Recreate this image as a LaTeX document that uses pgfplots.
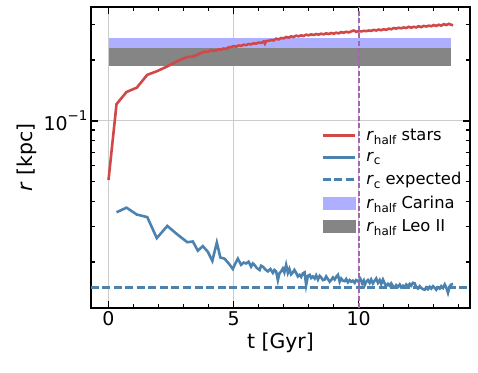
\documentclass[border=0pt]{standalone}
\usepackage{fontspec}
\setmainfont{DejaVu Sans}
\usepackage{pgfplots}
\pgfplotsset{compat=1.18}

\definecolor{cred}{RGB}{208,72,72}
\definecolor{cblue}{RGB}{75,130,175}
\definecolor{cband}{RGB}{175,175,255}
\definecolor{cgrey}{RGB}{133,133,133}
\definecolor{cvline}{RGB}{165,100,178}

\newcommand{\sub}[1]{\raisebox{-0.4ex}{\fontsize{12}{12}\selectfont #1}}

\begin{document}
\begin{tikzpicture}
\useasboundingbox (-91bp,-65bp) rectangle (387bp,308bp);
\begin{axis}[
  scale only axis, width=379bp, height=301bp,
  ymode=log,
  xmin=-0.7, xmax=14.45, ymin=0.01186, ymax=0.366,
  xtick={0,5,10}, minor xtick={1,2,3,4,6,7,8,9,11,12,13,14},
  ytick={0.1}, yticklabels={10\raisebox{1.0ex}{\fontsize{13.5}{13.5}\selectfont −1}},
  minor ytick={0.02,0.03,0.04,0.05,0.06,0.07,0.08,0.09,0.2,0.3},
  tick align=inside, xtick pos=both, ytick pos=both,
  major tick length=7bp, minor tick length=4bp,
  tick style={black, line width=1.3bp},
  axis line style={line width=1.8bp},
  grid=major, major grid style={black!20, line width=1bp},
  tick label style={font=\fontsize{19}{22}\selectfont},
  /pgf/number format/assume math mode=true,
  xlabel={t [Gyr]}, ylabel={\textit{r} [kpc]},
  label style={font=\fontsize{20.5}{23}\selectfont},
  legend style={at={(rel axis cs:0.6,0.608)}, anchor=north west, draw=none, fill=none,
    font=\fontsize{16.4}{18}\selectfont, row sep=5.8bp, column sep=8bp},
  legend cell align=left,
]
% legend handles first, in the reference's order
\addlegendimage{legend image code/.code={\draw[cred, line width=2.8bp] (0bp,0bp) -- (32bp,0bp);}}
\addlegendentry{\textit{r}\sub{half} stars}
\addlegendimage{legend image code/.code={\draw[cblue, line width=2.8bp] (0bp,0bp) -- (32bp,0bp);}}
\addlegendentry{\textit{r}\sub{c}}
\addlegendimage{legend image code/.code={\draw[cblue, line width=2.8bp, dash pattern=on 8bp off 3.5bp] (0bp,0bp) -- (32bp,0bp);}}
\addlegendentry{\textit{r}\sub{c} expected}
\addlegendimage{legend image code/.code={\fill[cband] (0bp,-6bp) rectangle (32bp,6bp);}}
\addlegendentry{\textit{r}\sub{half} Carina}
\addlegendimage{legend image code/.code={\fill[cgrey] (0bp,-6bp) rectangle (32bp,6bp);}}
\addlegendentry{\textit{r}\sub{half} Leo II}

% observed bands
\addplot[forget plot, fill=cband, draw=none] coordinates {(0,0.21) (13.7,0.21) (13.7,0.258) (0,0.258)} -- cycle;
\addplot[forget plot, fill=cgrey, draw=none] coordinates {(0,0.187) (13.7,0.187) (13.7,0.229) (0,0.229)} -- cycle;

% r_c expected
\addplot[forget plot, cblue, line width=2.6bp, dash pattern=on 8bp off 3.5bp] coordinates {(-0.7,0.015) (14.45,0.015)};

% r_half stars
\addplot[forget plot, cred, line width=2.6bp] coordinates {
(0,0.051) (0.32,0.121) (0.72,0.139) (1.13,0.146) (1.55,0.169) (1.93,0.176) (2.35,0.186)
(2.77,0.198) (3.15,0.207) (3.37,0.208) (3.57,0.213) (3.77,0.219) (3.97,0.220) (4.1,0.224)
(4.2,0.222) (4.3,0.223) (4.4,0.226) (4.5,0.225) (4.6,0.228) (4.7,0.227) (4.8,0.231)
(4.9,0.232) (5.0,0.234) (5.1,0.233) (5.2,0.236) (5.3,0.235) (5.4,0.238) (5.5,0.237)
(5.6,0.240) (5.7,0.239) (5.8,0.242) (5.9,0.241) (6.0,0.244) (6.1,0.243) (6.2,0.247)
(6.25,0.241) (6.3,0.248) (6.4,0.249) (6.5,0.251) (6.6,0.250) (6.7,0.255) (6.8,0.253)
(6.9,0.257) (7.0,0.256) (7.1,0.260) (7.2,0.258) (7.3,0.262) (7.4,0.260) (7.5,0.264)
(7.6,0.262) (7.7,0.265) (7.8,0.263) (7.9,0.267) (8.0,0.265) (8.1,0.268) (8.2,0.266)
(8.3,0.269) (8.4,0.267) (8.5,0.270) (8.6,0.268) (8.7,0.271) (8.8,0.269) (8.9,0.272)
(9.0,0.270) (9.1,0.273) (9.2,0.271) (9.3,0.275) (9.4,0.273) (9.5,0.276) (9.6,0.274)
(9.7,0.277) (9.8,0.280) (9.9,0.276) (10.0,0.278) (10.1,0.277) (10.2,0.279) (10.3,0.278)
(10.4,0.280) (10.5,0.279) (10.6,0.282) (10.7,0.280) (10.8,0.283) (10.9,0.281) (11.0,0.284)
(11.1,0.282) (11.2,0.286) (11.3,0.284) (11.4,0.288) (11.5,0.286) (11.6,0.289) (11.7,0.287)
(11.8,0.290) (11.9,0.288) (12.0,0.292) (12.1,0.289) (12.2,0.292) (12.3,0.290) (12.4,0.294)
(12.5,0.291) (12.6,0.295) (12.7,0.293) (12.8,0.296) (12.9,0.294) (13.0,0.298) (13.1,0.295)
(13.2,0.299) (13.3,0.296) (13.4,0.301) (13.5,0.298) (13.6,0.302) (13.7,0.299) (13.77,0.297)
};

% r_c
\addplot[forget plot, cblue, line width=2.6bp] coordinates {
(0.32,0.0353) (0.72,0.0372) (1.13,0.0344) (1.55,0.0334) (1.93,0.0263) (2.35,0.0302)
(2.77,0.0273) (3.15,0.0251) (3.37,0.0253) (3.57,0.0228) (3.77,0.0240) (3.97,0.0225)
(4.15,0.0203) (4.33,0.0250) (4.47,0.0211) (4.64,0.0208) (4.82,0.0196) (4.97,0.0185)
(5.07,0.0197) (5.17,0.0208) (5.3,0.0194) (5.4,0.0199) (5.5,0.0197) (5.6,0.0201)
(5.7,0.0190) (5.77,0.0197) (5.83,0.0194) (5.93,0.0187) (6.04,0.0183) (6.1,0.0192)
(6.17,0.0190) (6.27,0.0184) (6.37,0.0180) (6.47,0.0185) (6.57,0.0177) (6.63,0.0183)
(6.7,0.0180) (6.77,0.0163) (6.83,0.0176) (6.9,0.0180) (6.97,0.0186) (7.03,0.0178)
(7.1,0.0194) (7.17,0.0177) (7.23,0.0185) (7.3,0.0174) (7.37,0.0178) (7.43,0.0183)
(7.5,0.0177) (7.57,0.0170) (7.64,0.0173) (7.7,0.0169) (7.77,0.0176) (7.84,0.0178)
(7.9,0.0154) (7.97,0.0171) (8.04,0.0173) (8.1,0.0167) (8.17,0.0170) (8.24,0.0166)
(8.3,0.0172) (8.37,0.0164) (8.44,0.0171) (8.5,0.0168) (8.57,0.0163) (8.64,0.0164)
(8.7,0.0170) (8.77,0.0165) (8.84,0.0160) (8.9,0.0163) (8.97,0.0168) (9.04,0.0164)
(9.1,0.0169) (9.17,0.0173) (9.24,0.0160) (9.3,0.0166) (9.37,0.0162) (9.44,0.0161)
(9.5,0.0165) (9.57,0.0159) (9.64,0.0163) (9.7,0.0160) (9.77,0.0162) (9.84,0.0158)
(9.9,0.0163) (10.0,0.0160) (10.07,0.0165) (10.14,0.0157) (10.2,0.0162) (10.24,0.0154)
(10.3,0.0160) (10.37,0.0163) (10.44,0.0158) (10.5,0.0164) (10.57,0.0157) (10.64,0.0162)
(10.7,0.0166) (10.77,0.0158) (10.84,0.0163) (10.9,0.0156) (10.97,0.0164) (11.04,0.0157)
(11.1,0.0152) (11.17,0.0156) (11.24,0.0153) (11.3,0.0157) (11.37,0.0152) (11.44,0.0150)
(11.5,0.0154) (11.57,0.0151) (11.64,0.0155) (11.7,0.0150) (11.77,0.0153) (11.84,0.0151)
(11.9,0.0155) (11.97,0.0152) (12.04,0.0156) (12.1,0.0153) (12.17,0.0158) (12.24,0.0157)
(12.3,0.0150) (12.37,0.0148) (12.44,0.0152) (12.5,0.0149) (12.57,0.0147) (12.64,0.0146)
(12.7,0.0150) (12.77,0.0147) (12.84,0.0151) (12.9,0.0148) (12.97,0.0152) (13.04,0.0149)
(13.1,0.0146) (13.17,0.0150) (13.24,0.0148) (13.3,0.0152) (13.37,0.0149) (13.44,0.0155)
(13.5,0.0150) (13.57,0.0141) (13.64,0.0152) (13.7,0.0155) (13.77,0.0156)
};

% t = 10 Gyr marker
\addplot[forget plot, cvline, line width=2bp, dash pattern=on 5bp off 2.5bp] coordinates {(10,0.01186) (10,0.366)};
\end{axis}
\end{tikzpicture}
\end{document}
